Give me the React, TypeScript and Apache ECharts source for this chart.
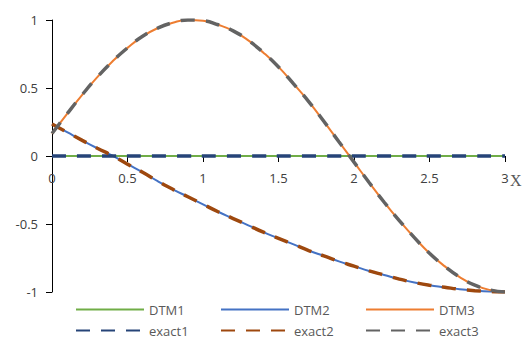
import { useEffect, useRef } from "react";
import * as echarts from "echarts";

const xValues = [0, 0.1, 0.2, 0.3, 0.4, 0.5, 0.6, 0.7, 0.8, 0.9, 1.0, 1.1, 1.2, 1.3, 1.4, 1.5, 1.6, 1.7, 1.8, 1.9, 2.0, 2.1, 2.2, 2.3, 2.4, 2.5, 2.6, 2.7, 2.8, 2.9, 3.0];

const dtm1 = [0, 0, 0, 0, 0, 0, 0, 0, 0, 0, 0, 0, 0, 0, 0, 0, 0, 0, 0, 0, 0, 0, 0, 0, 0, 0, 0, 0, 0, 0, 0];
const dtm2 = [0.235, 0.175, 0.115, 0.057, 0.002, -0.06, -0.12, -0.185, -0.245, -0.3, -0.355, -0.41, -0.46, -0.51, -0.56, -0.605, -0.65, -0.695, -0.735, -0.775, -0.81, -0.845, -0.875, -0.905, -0.93, -0.95, -0.965, -0.98, -0.99, -0.997, -1.0];
const dtm3 = [0.165, 0.31, 0.45, 0.58, 0.695, 0.795, 0.88, 0.94, 0.98, 1.0, 0.995, 0.965, 0.92, 0.85, 0.76, 0.655, 0.53, 0.4, 0.255, 0.105, -0.045, -0.195, -0.34, -0.475, -0.6, -0.715, -0.81, -0.89, -0.95, -0.985, -1.0];
const exact1 = [0, 0, 0, 0, 0, 0, 0, 0, 0, 0, 0, 0, 0, 0, 0, 0, 0, 0, 0, 0, 0, 0, 0, 0, 0, 0, 0, 0, 0, 0, 0];
const exact2 = [0.235, 0.175, 0.115, 0.057, 0.002, -0.06, -0.12, -0.185, -0.245, -0.3, -0.355, -0.41, -0.46, -0.51, -0.56, -0.605, -0.65, -0.695, -0.735, -0.775, -0.81, -0.845, -0.875, -0.905, -0.93, -0.95, -0.965, -0.98, -0.99, -0.997, -1.0];
const exact3 = [0.165, 0.31, 0.45, 0.58, 0.695, 0.795, 0.88, 0.94, 0.98, 1.0, 0.995, 0.965, 0.92, 0.85, 0.76, 0.655, 0.53, 0.4, 0.255, 0.105, -0.045, -0.195, -0.34, -0.475, -0.6, -0.715, -0.81, -0.89, -0.95, -0.985, -1.0];

const seriesNames = ["DTM1", "DTM2", "DTM3", "exact1", "exact2", "exact3"];
const seriesValues = [dtm1, dtm2, dtm3, exact1, exact2, exact3];
const seriesColors = ["#70AD47", "#4472C4", "#ED7D31", "#264478", "#9E480E", "#636363"];

const FONT = "'Open Sans', 'Liberation Sans', sans-serif";
const TEXT_COLOR = "#404040";

const GRID_TOP = 20;
const GRID_BOTTOM = 46;
const CHART_H = 338;

export default function App() {
  const ref = useRef<HTMLDivElement>(null);
  useEffect(() => {
    const chart = echarts.init(ref.current!, null, { renderer: "svg" });
    const series = seriesNames.map((name, i) => {
      const dashed = i >= 3;
      return {
        name,
        type: "line",
        symbol: "none",
        showSymbol: false,
        smooth: true,
        z: dashed ? 3 : 2,
        data: xValues.map((x, j) => [x, seriesValues[i][j]]),
        lineStyle: dashed
          ? { color: seriesColors[i], width: 3.5, type: [14, 11], cap: "butt" }
          : { color: seriesColors[i], width: 2 },
        itemStyle: { color: seriesColors[i] },
      };
    });
    const colLeft = [75, 220, 365];
    const rowTop = [303, 324];
    const legends = seriesNames.map((name, i) => ({
      data: [name],
      left: colLeft[i % 3],
      top: rowTop[Math.floor(i / 3)],
      padding: 0,
      itemWidth: 68,
      itemHeight: 14,
      selectedMode: false,
      itemStyle: { opacity: 0 },
      lineStyle: { opacity: 1 },
      textStyle: { color: "#595959", fontSize: 13, fontFamily: FONT },
    }));
    // distance from the plot's bottom edge up to y = 0
    const plotH = CHART_H - GRID_TOP - GRID_BOTTOM;
    chart.setOption({
      animation: false,
      backgroundColor: "#ffffff",
      grid: { left: 52, right: 18, top: GRID_TOP, bottom: GRID_BOTTOM },
      legend: legends,
      xAxis: {
        type: "value",
        min: 0,
        max: 3,
        interval: 0.5,
        offset: -plotH / 2,
        axisLine: { onZero: false, lineStyle: { color: "#000000", width: 1 } },
        axisTick: { show: true, length: 6, lineStyle: { color: "#000000" } },
        splitLine: { show: false },
        axisLabel: { color: TEXT_COLOR, fontSize: 13, fontFamily: FONT, margin: 15 },
      },
      yAxis: {
        type: "value",
        min: -1,
        max: 1,
        interval: 0.5,
        axisLine: { show: true, onZero: false, lineStyle: { color: "#000000", width: 1 } },
        axisTick: { show: true, length: 6, lineStyle: { color: "#000000" } },
        splitLine: { show: false },
        axisLabel: { color: TEXT_COLOR, fontSize: 13, fontFamily: FONT, margin: 14 },
      },
      graphic: [
        {
          type: "text",
          left: 510,
          top: 172,
          style: {
            text: "X",
            fill: "#595959",
            font: "16px 'Liberation Serif', 'DejaVu Serif', serif",
          },
        },
      ],
      series,
    });
    return () => chart.dispose();
  }, []);
  return (
    <div
      ref={ref}
      style={{ position: "fixed", left: 0, top: 0, width: 523, height: 338 }}
    />
  );
}
